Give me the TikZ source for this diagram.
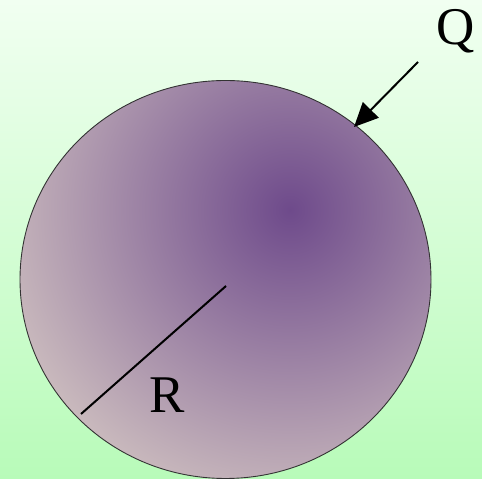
\documentclass[tikz,border=0pt]{standalone}
\usepackage{fontspec}
\setmainfont{Liberation Serif}
\usetikzlibrary{arrows.meta,shapes.geometric}
\definecolor{bgtop}{HTML}{F1FFF1}
\definecolor{bgbot}{HTML}{B8FBB9}
\definecolor{ballin}{HTML}{6E4A8B}
\definecolor{ballout}{HTML}{CDBEBF}
\begin{document}
\begin{tikzpicture}[x=1pt,y=1pt,
  lbl/.style={font=\fontsize{53}{60}\selectfont, inner sep=0pt, text=black},
  conn/.style={line width=2pt, draw=black}]
\shade[top color=bgtop, bottom color=bgbot] (0,0) rectangle (482,479);
\useasboundingbox (0,0) rectangle (482,479);
\begin{scope}
  \clip (225.5,199.5) ellipse [x radius=205.5, y radius=199];
  \shade[inner color=ballin, outer color=ballout] (-20,-41) rectangle (600,579);
\end{scope}
\node (ball) [ellipse, draw=black!80, line width=0.9pt, minimum width=411pt, minimum height=398pt, inner sep=0pt] at (225.5,199.5) {};
\coordinate (O) at (226,193);
\coordinate (A) at (81,65);
\coordinate (qstart) at (418,417);
\coordinate (qtip) at (354,352);
\draw[conn] (O) -- (A);
\draw[conn, -{Triangle[length=24pt,width=22pt]}] (qstart) -- (qtip);
\node (R) [lbl] at (167,84) {R};
\node (Q) [lbl] at (456,448) {Q};
\end{tikzpicture}
\end{document}
